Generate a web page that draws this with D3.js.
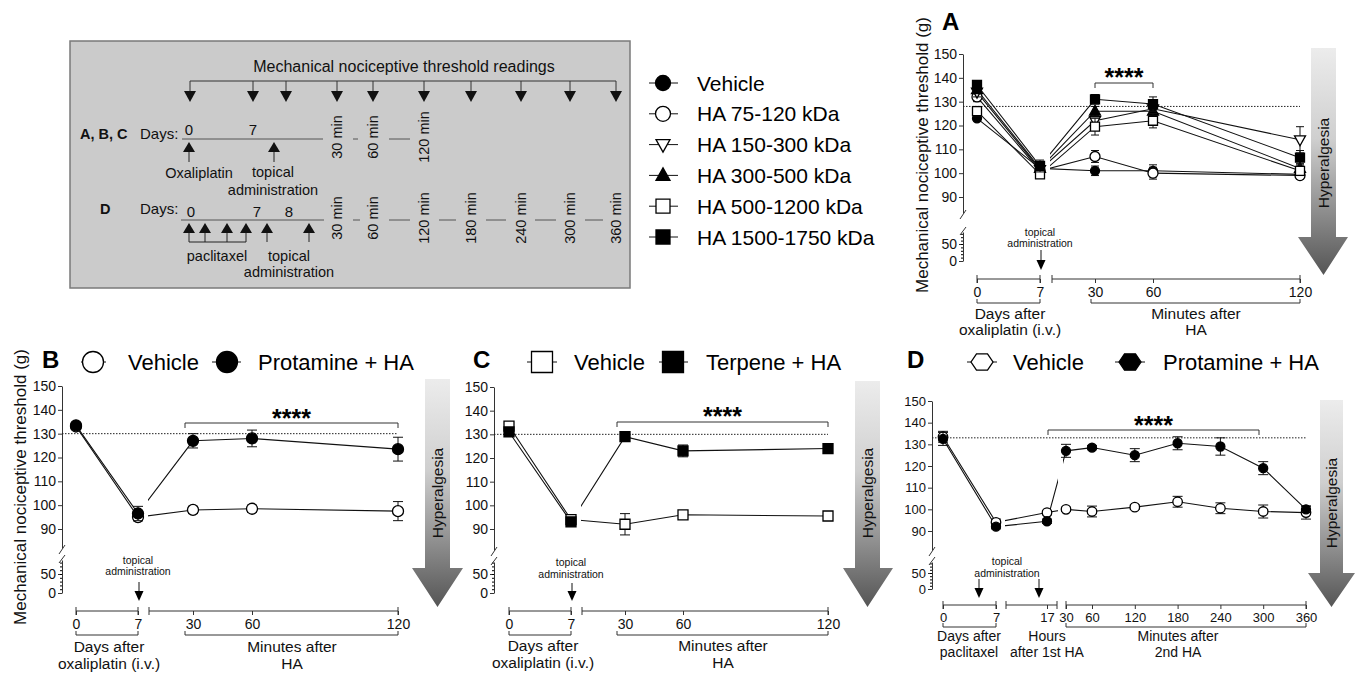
<!DOCTYPE html>
<html>
<head>
<meta charset="utf-8">
<script src="https://cdn.jsdelivr.net/npm/d3@7"></script>
<style>
  body { margin: 0; background: #fff; }
  svg { display: block; font-family: "Liberation Sans", Arial, sans-serif; }
</style>
</head>
<body>
<svg id="fig" width="1360" height="679"></svg>
<script>
// ---------- data ----------
const abcDays = [0, 7];
const abcMinutes = [30, 60, 120];
const dDays = [0, 7];
const dHours = [17];
const dMinutes = [30, 60, 120, 180, 240, 300, 360];
const upperTicks = [90, 100, 110, 120, 130, 140, 150];
const lowerTicks = [0, 50];

const legendLabels = ["Vehicle", "HA 75-120 kDa", "HA 150-300 kDa", "HA 300-500 kDa", "HA 500-1200 kDa", "HA 1500-1750 kDa"];
const legendShapes = ["circle", "circle", "triDown", "triUp", "square", "square"];
const legendFilled = [true, false, false, true, false, true];

// panel A : day 0, day 7, 30, 60, 120 min
const aVehicle = [123, 102, 101, 101, 99.5];
const aVehicleErr = [1, 1.5, 2, 2.5, 1.5];
const aHA75 = [132, 101, 107, 100, 99];
const aHA75Err = [2, 1.5, 2.5, 2.5, 1.5];
const aHA150 = [134, 101.5, 122, 127, 114];
const aHA150Err = [2, 1.5, 2, 2.5, 5.5];
const aHA300 = [135, 102, 126, 126, 102];
const aHA300Err = [1.5, 1.5, 2, 2, 2];
const aHA500 = [126, 99.5, 119.5, 122, 101];
const aHA500Err = [2, 1.5, 3.5, 3, 2];
const aHA1500 = [137, 103, 131, 129, 106.5];
const aHA1500Err = [1.5, 2.5, 2, 3, 3];
const aBaseline = 128;

// panel B
const bLegend = ["Vehicle", "Protamine + HA"];
const bVehicle = [133, 95, 98, 98.5, 97.5];
const bVehicleErr = [1, 1.5, 1.5, 1.5, 4];
const bProtamine = [133.5, 96.5, 127, 128, 123.5];
const bProtamineErr = [1, 3, 3, 3.5, 5];
const bBaseline = 130;

// panel C
const cLegend = ["Vehicle", "Terpene + HA"];
const cVehicle = [133.5, 94, 92, 96, 95.5];
const cVehicleErr = [1.5, 1.5, 4.5, 1.5, 1];
const cTerpene = [131, 93, 129, 123, 124];
const cTerpeneErr = [1.5, 1, 1, 2.5, 1];
const cBaseline = 130;

// panel D : day 0, day 7, 17 h, 30 ... 360 min
const dLegend = ["Vehicle", "Protamine + HA"];
const dVehicle = [133.5, 94, 98.5, 100, 99, 101, 103.5, 100.5, 99, 98.5];
const dVehicleErr = [2.5, 1.5, 1, 1, 2.5, 1, 2.5, 2.5, 3, 3];
const dProtamine = [132.5, 92, 94.5, 127, 128.5, 125, 130.5, 129, 119, 100];
const dProtamineErr = [3, 1, 1, 3, 1, 3, 3, 4, 3, 1.5];
const dBaseline = 133;

const yTitle = "Mechanical nociceptive threshold (g)";

// ---------- helpers ----------
const svg = d3.select("#fig");

const defs = svg.append("defs");
const grad = defs.append("linearGradient").attr("id", "hyperGrad")
  .attr("x1", 0).attr("y1", 0).attr("x2", 0).attr("y2", 1);
grad.append("stop").attr("offset", "0%").attr("stop-color", "#ececec");
grad.append("stop").attr("offset", "40%").attr("stop-color", "#cfcfcf");
grad.append("stop").attr("offset", "100%").attr("stop-color", "#555555");

function shapePath(shape, w) {
  if (shape === "circle") return d3.symbol(d3.symbolCircle, Math.PI * (w / 2) * (w / 2))();
  if (shape === "square") return d3.symbol(d3.symbolSquare, w * w)();
  const h = w * 0.9;
  if (shape === "triUp") return d3.line()([[0, -h * 0.6], [w / 2, h * 0.4], [-w / 2, h * 0.4]]) + "Z";
  if (shape === "triDown") return d3.line()([[0, h * 0.6], [w / 2, -h * 0.4], [-w / 2, -h * 0.4]]) + "Z";
  if (shape === "hex") {
    const hh = w * 0.37;
    return d3.line()([[-w / 2, 0], [-w / 4, -hh], [w / 4, -hh], [w / 2, 0], [w / 4, hh], [-w / 4, hh]]) + "Z";
  }
}

function drawMarker(g, shape, filled, x, y, w) {
  g.append("path").attr("d", shapePath(shape, w))
    .attr("transform", `translate(${x},${y})`)
    .attr("fill", filled ? "#000" : "#fff")
    .attr("stroke", "#000").attr("stroke-width", 1.3);
}

function hyperArrow(a) {
  const g = svg.append("g");
  const pts = [[a.x1, a.top], [a.x2, a.top], [a.x2, a.headTop], [a.hx2, a.headTop],
    [(a.x1 + a.x2) / 2, a.tip], [a.hx1, a.headTop], [a.x1, a.headTop]];
  g.append("path").attr("d", d3.line()(pts) + "Z").attr("fill", "url(#hyperGrad)");
  const cx = (a.x1 + a.x2) / 2;
  g.append("text").attr("transform", `translate(${cx + 5.5},${a.textY}) rotate(-90)`)
    .attr("text-anchor", "middle").attr("font-size", 15.5).attr("fill", "#111")
    .text("Hyperalgesia");
}

function drawPanel(p) {
  const g = svg.append("g");
  const yUp = d3.scaleLinear().domain([90, 150]).range([p.y90, p.y150]);
  const yLow = d3.scaleLinear().domain([0, 50]).range([p.y0, p.y50]);

  // y axis, upper part
  const upAxisScale = d3.scaleLinear().domain([yUp.invert(p.upperBottom), 150]).range([p.upperBottom, p.y150]);
  const ga = g.append("g").attr("transform", `translate(${p.yAxisX},0)`)
    .call(d3.axisLeft(upAxisScale).tickValues(upperTicks).tickSize(4).tickSizeOuter(0).tickPadding(2));
  // y axis, lower part
  const lowAxisScale = d3.scaleLinear().domain([0, yLow.invert(p.lowerTop)]).range([p.y0, p.lowerTop]);
  const gl = g.append("g").attr("transform", `translate(${p.yAxisX},0)`)
    .call(d3.axisLeft(lowAxisScale).tickValues(lowerTicks).tickSize(4).tickSizeOuter(0).tickPadding(2));
  g.append("g").attr("transform", `translate(${p.yAxisX},0)`)
    .call(d3.axisLeft(lowAxisScale).tickValues(d3.range(10, yLow.invert(p.lowerTop), 10)).tickSize(2).tickFormat(""))
    .select(".domain").remove();
  [ga, gl].forEach((s) => {
    s.selectAll("text").attr("font-size", p.tickSize).attr("font-family", null).attr("fill", "#111");
    s.selectAll("line,path").attr("stroke", "#333");
  });
  // break marks
  g.append("line").attr("x1", p.yAxisX - 3).attr("y1", p.upperBottom + 6)
    .attr("x2", p.yAxisX + 3).attr("y2", p.upperBottom - 3).attr("stroke", "#333");
  g.append("line").attr("x1", p.yAxisX - 3).attr("y1", p.lowerTop + 3)
    .attr("x2", p.yAxisX + 3).attr("y2", p.lowerTop - 5).attr("stroke", "#333");

  // x axis segments
  const segScales = p.segments.map((s) => {
    const sc = d3.scaleLinear().domain(s.domain).range(s.range);
    const gx = g.append("g").attr("transform", `translate(0,${p.xAxisY})`)
      .call(d3.axisBottom(sc).tickValues(s.ticks).tickFormat(d3.format("d"))
        .tickSize(4).tickSizeOuter(0).tickPadding(4));
    gx.select(".domain").remove();
    gx.selectAll("text").attr("font-size", p.tickSize).attr("font-family", null).attr("fill", "#111");
    gx.selectAll("line").attr("stroke", "#333");
    g.append("line").attr("x1", s.line[0]).attr("x2", s.line[1])
      .attr("y1", p.xAxisY).attr("y2", p.xAxisY).attr("stroke", "#333");
    s.line.forEach((lx) => {
      g.append("line").attr("x1", lx).attr("x2", lx)
        .attr("y1", p.xAxisY - 4).attr("y2", p.xAxisY + 4).attr("stroke", "#333");
    });
    return sc;
  });

  // x axis group labels with brackets
  p.groups.forEach((gr) => {
    if (gr.bracket) {
      const [bx1, bx2] = gr.bracket;
      g.append("path").attr("fill", "none").attr("stroke", "#333")
        .attr("d", d3.line()([[bx1, p.bracketY - 4], [bx1, p.bracketY], [bx2, p.bracketY], [bx2, p.bracketY - 4]]));
    }
    gr.lines.forEach((t, i) => {
      g.append("text").attr("x", gr.cx).attr("y", p.labelY[i]).attr("text-anchor", "middle")
        .attr("font-size", p.labelSize).attr("fill", "#111").text(t);
    });
  });

  // baseline dotted line
  g.append("line").attr("x1", p.yAxisX).attr("x2", p.dottedX2)
    .attr("y1", yUp(p.baseline)).attr("y2", yUp(p.baseline))
    .attr("stroke", "#222").attr("stroke-width", 1).attr("stroke-dasharray", "1.5,1.5");

  // significance
  g.append("path").attr("fill", "none").attr("stroke", "#333")
    .attr("d", d3.line()([[p.sig.x1, p.sig.y + 5], [p.sig.x1, p.sig.y], [p.sig.x2, p.sig.y], [p.sig.x2, p.sig.y + 5]]));
  g.append("text").attr("x", (p.sig.x1 + p.sig.x2) / 2).attr("y", p.sig.textY + 14)
    .attr("text-anchor", "middle").attr("font-size", 25).attr("font-weight", "bold").text("****");

  // topical administration
  g.append("text").attr("x", p.topical.cx).attr("y", p.topical.textY[0]).attr("text-anchor", "middle")
    .attr("font-size", 10.5).attr("fill", "#111").text("topical");
  g.append("text").attr("x", p.topical.cx).attr("y", p.topical.textY[1]).attr("text-anchor", "middle")
    .attr("font-size", 10.5).attr("fill", "#111").text("administration");
  p.topical.arrows.forEach((ax) => {
    g.append("line").attr("x1", ax).attr("x2", ax).attr("y1", p.topical.y1).attr("y2", p.topical.y2 - 8)
      .attr("stroke", "#111");
    g.append("path").attr("fill", "#000")
      .attr("d", d3.line()([[ax - 4.5, p.topical.y2 - 10], [ax + 4.5, p.topical.y2 - 10], [ax, p.topical.y2]]) + "Z");
  });

  // clip region for lines (gaps between axis segments)
  const clipId = "clip" + p.label;
  const cp = defs.append("clipPath").attr("id", clipId);
  let left = p.yAxisX;
  p.gaps.concat([[1360, 1360]]).forEach(([a, b]) => {
    cp.append("rect").attr("x", left).attr("y", 0).attr("width", a - left).attr("height", 679);
    left = b;
  });

  // points
  const xOf = p.points.map(([si, v]) => segScales[si](v));
  const lineGen = d3.line().x((d, i) => xOf[i]).y((d) => yUp(d));
  const lg = g.append("g").attr("clip-path", `url(#${clipId})`);
  p.series.forEach((s) => {
    lg.append("path").datum(s.values).attr("d", lineGen)
      .attr("fill", "none").attr("stroke", "#111").attr("stroke-width", 1.1);
  });
  p.series.forEach((s) => {
    const eg = g.append("g").attr("stroke", "#111").attr("stroke-width", 1);
    s.values.forEach((v, i) => {
      const x = xOf[i], e = s.errors[i], cw = p.cap / 2;
      eg.append("line").attr("x1", x).attr("x2", x).attr("y1", yUp(v - e)).attr("y2", yUp(v + e));
      eg.append("line").attr("x1", x - cw).attr("x2", x + cw).attr("y1", yUp(v - e)).attr("y2", yUp(v - e));
      eg.append("line").attr("x1", x - cw).attr("x2", x + cw).attr("y1", yUp(v + e)).attr("y2", yUp(v + e));
    });
    s.values.forEach((v, i) => drawMarker(g, s.shape, s.filled, xOf[i], yUp(v), s.size));
  });

  // panel letter
  g.append("text").attr("x", p.letter.x).attr("y", p.letter.y)
    .attr("font-size", 24).attr("font-weight", "bold").text(p.label);

  // y title
  if (p.title) {
    g.append("text").attr("transform", `translate(${p.title.x + 6},${p.title.y}) rotate(-90)`)
      .attr("text-anchor", "middle").attr("font-size", 17).attr("fill", "#111").text(yTitle);
  }

  // inline legend
  if (p.legend) {
    p.legend.forEach((it) => {
      g.append("line").attr("x1", it.stub[0]).attr("x2", it.stub[1]).attr("y1", it.cy).attr("y2", it.cy)
        .attr("stroke", "#111");
      drawMarker(g, it.shape, it.filled, it.cx, it.cy, it.size);
      g.append("text").attr("x", it.tx).attr("y", it.cy + 8).attr("font-size", 22).text(it.text);
    });
  }

  hyperArrow(p.arrow);
}

// ---------- schematic ----------
(function schematic() {
  const g = svg.append("g").attr("fill", "#111");
  g.append("rect").attr("x", 70).attr("y", 41).attr("width", 560).attr("height", 247)
    .attr("fill", "#cbcbcb").attr("stroke", "#7a7a7a").attr("stroke-width", 1.5);
  g.append("text").attr("x", 404).attr("y", 72).attr("text-anchor", "middle").attr("font-size", 16)
    .text("Mechanical nociceptive threshold readings");

  const readX = [190, 253, 286, 337, 373, 424, 471, 521, 570, 616];
  g.append("line").attr("x1", readX[0]).attr("x2", readX[readX.length - 1]).attr("y1", 81).attr("y2", 81)
    .attr("stroke", "#333");
  readX.forEach((x) => {
    g.append("line").attr("x1", x).attr("x2", x).attr("y1", 81).attr("y2", 92).attr("stroke", "#333");
    g.append("path").attr("d", d3.line()([[x - 6, 91], [x + 6, 91], [x, 102]]) + "Z");
  });

  function upArrow(x, tip, base) {
    g.append("line").attr("x1", x).attr("x2", x).attr("y1", tip + 8).attr("y2", base).attr("stroke", "#222");
    g.append("path").attr("d", d3.line()([[x - 6, tip + 10], [x + 6, tip + 10], [x, tip]]) + "Z");
  }
  function rot(text, x, y) {
    g.append("text").attr("transform", `translate(${x + 5},${y}) rotate(-90)`)
      .attr("text-anchor", "middle").attr("font-size", 14.5).text(text);
  }
  function dash(x1, x2, y) {
    g.append("line").attr("x1", x1).attr("x2", x2).attr("y1", y).attr("y2", y).attr("stroke", "#555");
  }

  // A, B, C row
  g.append("text").attr("x", 80).attr("y", 139).attr("font-size", 14.5).attr("font-weight", "bold").text("A, B, C");
  g.append("text").attr("x", 140).attr("y", 139).attr("font-size", 15).text("Days:");
  g.append("text").attr("x", 189).attr("y", 135).attr("text-anchor", "middle").attr("font-size", 15).text("0");
  g.append("text").attr("x", 253).attr("y", 135).attr("text-anchor", "middle").attr("font-size", 15).text("7");
  dash(182, 323, 139);
  ["30 min", "60 min", "120 min"].forEach((t, i) => rot(t, [337, 373, 424][i], 137));
  dash(353, 358, 139);
  dash(389, 410, 139);
  upArrow(189, 142, 162);
  upArrow(274, 142, 162);
  g.append("text").attr("x", 199).attr("y", 178).attr("text-anchor", "middle").attr("font-size", 14.5).text("Oxaliplatin");
  g.append("text").attr("x", 273).attr("y", 177).attr("text-anchor", "middle").attr("font-size", 14.5).text("topical");
  g.append("text").attr("x", 273).attr("y", 195).attr("text-anchor", "middle").attr("font-size", 14.5).text("administration");

  // D row
  g.append("text").attr("x", 100).attr("y", 214).attr("font-size", 14.5).attr("font-weight", "bold").text("D");
  g.append("text").attr("x", 140).attr("y", 214).attr("font-size", 15).text("Days:");
  [["0", 191], ["7", 257], ["8", 289]].forEach(([t, x]) => {
    g.append("text").attr("x", x).attr("y", 217).attr("text-anchor", "middle").attr("font-size", 15).text(t);
  });
  dash(181, 324, 220);
  ["30 min", "60 min", "120 min", "180 min", "240 min", "300 min", "360 min"]
    .forEach((t, i) => rot(t, [337, 373, 424, 471, 521, 570, 616][i], 218));
  [[353, 360], [389, 410], [439, 456], [486, 506], [535, 556], [585, 603]].forEach(([a, b]) => dash(a, b, 220));
  [189, 205, 227, 246].forEach((x) => upArrow(x, 223, 242));
  g.append("line").attr("x1", 189).attr("x2", 246).attr("y1", 242).attr("y2", 242).attr("stroke", "#222");
  upArrow(267, 223, 242);
  upArrow(309, 223, 242);
  g.append("text").attr("x", 217).attr("y", 261).attr("text-anchor", "middle").attr("font-size", 14.5).text("paclitaxel");
  g.append("text").attr("x", 289).attr("y", 261).attr("text-anchor", "middle").attr("font-size", 14.5).text("topical");
  g.append("text").attr("x", 289).attr("y", 277).attr("text-anchor", "middle").attr("font-size", 14.5).text("administration");
})();

// ---------- panel A legend ----------
(function legendA() {
  const g = svg.append("g");
  const rowY = d3.scalePoint().domain(legendLabels).range([83, 237]);
  legendLabels.forEach((t, i) => {
    const y = rowY(t);
    g.append("line").attr("x1", 649).attr("x2", 678).attr("y1", y).attr("y2", y).attr("stroke", "#111");
    drawMarker(g, legendShapes[i], legendFilled[i], 663, y, legendShapes[i] === "circle" ? 15 : 14);
    g.append("text").attr("x", 697).attr("y", y + 7.5).attr("font-size", 21).text(t);
  });
})();

// ---------- panels ----------
const abcPoints = abcDays.map((d) => [0, d]).concat(abcMinutes.map((m) => [1, m]));

drawPanel({
  label: "A", letter: { x: 942, y: 30 },
  yAxisX: 963, y150: 54, y90: 197, upperBottom: 213, y0: 261, y50: 244, lowerTop: 232,
  xAxisY: 279, tickSize: 14, labelSize: 15.5,
  segments: [
    { domain: [0, 7], range: [977, 1040], ticks: abcDays, line: [977, 1040] },
    { domain: [30, 60, 120], range: [1095, 1153, 1300], ticks: abcMinutes, line: [1052, 1300] }
  ],
  gaps: [[1043, 1050]],
  points: abcPoints,
  series: [
    { values: aVehicle, errors: aVehicleErr, shape: "circle", filled: true, size: 9 },
    { values: aHA75, errors: aHA75Err, shape: "circle", filled: false, size: 10 },
    { values: aHA150, errors: aHA150Err, shape: "triDown", filled: false, size: 11 },
    { values: aHA300, errors: aHA300Err, shape: "triUp", filled: true, size: 11 },
    { values: aHA500, errors: aHA500Err, shape: "square", filled: false, size: 9 },
    { values: aHA1500, errors: aHA1500Err, shape: "square", filled: true, size: 9 }
  ],
  cap: 8,
  baseline: aBaseline, dottedX2: 1300,
  sig: { x1: 1095, x2: 1153, y: 83, textY: 72 },
  bracketY: 303, labelY: [319, 335],
  groups: [
    { bracket: [977, 1040], cx: 1010, lines: ["Days after", "oxaliplatin (i.v.)"] },
    { bracket: [1091, 1300], cx: 1196, lines: ["Minutes after", "HA"] }
  ],
  topical: { cx: 1040, textY: [236, 247], arrows: [1041], y1: 250, y2: 270 },
  arrow: { x1: 1311, x2: 1336, top: 48, headTop: 237, hx1: 1298, hx2: 1348, tip: 275, textY: 163 },
  title: { x: 922, y: 155 }
});

drawPanel({
  label: "B", letter: { x: 42, y: 368 },
  yAxisX: 62, y150: 386, y90: 529, upperBottom: 548, y0: 593, y50: 574, lowerTop: 560,
  xAxisY: 611, tickSize: 14, labelSize: 15.5,
  segments: [
    { domain: [0, 7], range: [76, 138], ticks: abcDays, line: [76, 138] },
    { domain: [30, 60, 120], range: [193, 252, 398], ticks: abcMinutes, line: [149, 398] }
  ],
  gaps: [[141, 148]],
  points: abcPoints,
  series: [
    { values: bVehicle, errors: bVehicleErr, shape: "circle", filled: false, size: 11 },
    { values: bProtamine, errors: bProtamineErr, shape: "circle", filled: true, size: 11 }
  ],
  cap: 10,
  baseline: bBaseline, dottedX2: 398,
  sig: { x1: 185, x2: 398, y: 423, textY: 413 },
  bracketY: 635, labelY: [652, 669],
  groups: [
    { bracket: [76, 138], cx: 109, lines: ["Days after", "oxaliplatin (i.v.)"] },
    { bracket: [185, 398], cx: 292, lines: ["Minutes after", "HA"] }
  ],
  topical: { cx: 138, textY: [564, 575], arrows: [139], y1: 582, y2: 601 },
  arrow: { x1: 425, x2: 450, top: 379, headTop: 568, hx1: 412, hx2: 463, tip: 607, textY: 493 },
  title: { x: 20, y: 487 },
  legend: [
    { shape: "circle", filled: false, cx: 93, cy: 362, size: 21, stub: [81, 106], tx: 128, text: bLegend[0] },
    { shape: "circle", filled: true, cx: 227, cy: 362, size: 21, stub: [212, 241], tx: 258, text: bLegend[1] }
  ]
});

drawPanel({
  label: "C", letter: { x: 473, y: 368 },
  yAxisX: 494, y150: 387, y90: 529, upperBottom: 550, y0: 593, y50: 574, lowerTop: 562,
  xAxisY: 611, tickSize: 14, labelSize: 15.5,
  segments: [
    { domain: [0, 7], range: [509, 571], ticks: abcDays, line: [509, 571] },
    { domain: [30, 60, 120], range: [625, 683, 828], ticks: abcMinutes, line: [582, 828] }
  ],
  gaps: [[574, 581]],
  points: abcPoints,
  series: [
    { values: cVehicle, errors: cVehicleErr, shape: "square", filled: false, size: 10 },
    { values: cTerpene, errors: cTerpeneErr, shape: "square", filled: true, size: 10 }
  ],
  cap: 10,
  baseline: cBaseline, dottedX2: 828,
  sig: { x1: 617, x2: 828, y: 422, textY: 411 },
  bracketY: 635, labelY: [651, 668],
  groups: [
    { bracket: [509, 571], cx: 543, lines: ["Days after", "oxaliplatin (i.v.)"] },
    { bracket: [617, 828], cx: 723, lines: ["Minutes after", "HA"] }
  ],
  topical: { cx: 571, textY: [566, 578], arrows: [572], y1: 583, y2: 601 },
  arrow: { x1: 855, x2: 880, top: 381, headTop: 568, hx1: 843, hx2: 893, tip: 607, textY: 493 },
  legend: [
    { shape: "square", filled: false, cx: 542, cy: 362, size: 21, stub: [527, 557], tx: 574, text: cLegend[0] },
    { shape: "square", filled: true, cx: 673, cy: 362, size: 21, stub: [659, 688], tx: 706, text: cLegend[1] }
  ]
});

drawPanel({
  label: "D", letter: { x: 907, y: 368 },
  yAxisX: 932, y150: 401, y90: 531, upperBottom: 550, y0: 589, y50: 573, lowerTop: 562,
  xAxisY: 605, tickSize: 13, labelSize: 14,
  segments: [
    { domain: [0, 7], range: [943, 996], ticks: dDays, line: [943, 996] },
    { domain: [0, 17], range: [1006, 1047], ticks: dHours, line: [1006, 1057] },
    { domain: [30, 60, 360], range: [1066, 1092, 1306], ticks: dMinutes, line: [1066, 1306] }
  ],
  gaps: [[999, 1005], [1058, 1063]],
  points: dDays.map((d) => [0, d]).concat(dHours.map((h) => [1, h]), dMinutes.map((m) => [2, m])),
  series: [
    { values: dVehicle, errors: dVehicleErr, shape: "circle", filled: false, size: 9.5 },
    { values: dProtamine, errors: dProtamineErr, shape: "circle", filled: true, size: 9 }
  ],
  cap: 10,
  baseline: dBaseline, dottedX2: 1306,
  sig: { x1: 1048, x2: 1259, y: 430, textY: 420 },
  bracketY: 627, labelY: [641, 657],
  groups: [
    { bracket: [943, 996], cx: 969, lines: ["Days after", "paclitaxel"] },
    { cx: 1047, lines: ["Hours", "after 1st HA"] },
    { bracket: [1066, 1306], cx: 1178, lines: ["Minutes after", "2nd HA"] }
  ],
  topical: { cx: 1007, textY: [565, 577], arrows: [979, 1039], y1: 579, y2: 598 },
  arrow: { x1: 1320, x2: 1343, top: 400, headTop: 573, hx1: 1308, hx2: 1355, tip: 607, textY: 503 },
  legend: [
    { shape: "hex", filled: false, cx: 982, cy: 362, size: 22, stub: [967, 997], tx: 1013, text: dLegend[0] },
    { shape: "hex", filled: true, cx: 1130, cy: 362, size: 22, stub: [1115, 1145], tx: 1163, text: dLegend[1] }
  ]
});
</script>
</body>
</html>
